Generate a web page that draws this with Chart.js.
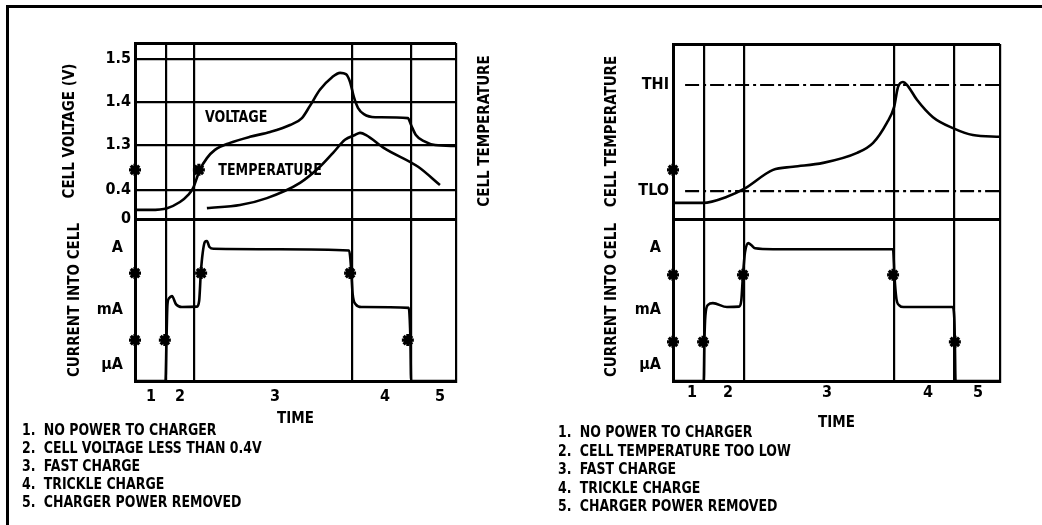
<!DOCTYPE html>
<html>
<head>
<meta charset="utf-8">
<title>Charge cycle: voltage, temperature and current</title>
<script src="https://cdn.jsdelivr.net/npm/chart.js@4.4.1/dist/chart.umd.min.js"></script>
<style>
  html, body { margin: 0; padding: 0; background: #fff; }
  body {
    width: 1042px; height: 525px; overflow: hidden; position: relative;
    font-family: 'Liberation Sans Narrow', 'DejaVu Sans Condensed', 'Arial Narrow', sans-serif;
    font-weight: bold; color: #000;
  }
  .frame {
    position: absolute; left: 6px; top: 5px; width: 1100px; height: 600px;
    border-top: 3px solid #000; border-left: 3px solid #000;
  }
  canvas { position: absolute; top: 0; }
  .notes { position: absolute; font-size: 16px; white-space: nowrap; transform: scaleX(0.87); transform-origin: 0 0; }
  .notes .n { display: inline-block; width: 25px; }
</style>
</head>
<body>
<div class="frame"></div>
<canvas id="leftChart" width="521" height="525" style="left:0"></canvas>
<canvas id="rightChart" width="521" height="525" style="left:521px"></canvas>
<div class="notes" id="leftNotes" style="left:22px; top:421px; line-height:18px"></div>
<div class="notes" id="rightNotes" style="left:558px; top:423px; line-height:18.6px"></div>

<script>
// ---- values ----
// time runs 0..100 across each plot; y values are in grid divisions
// measured from the line that splits the upper and lower plots

const phaseNames = ['1', '2', '3', '4', '5'];
const leftPhaseEdges = [0, 9.7, 18.4, 67.6, 86.0, 100];
const leftPhaseLabelPos = [5.0, 14.0, 43.6, 77.9, 95.0];
const rightPhaseEdges = [0, 9.5, 21.7, 67.6, 85.9, 100];
const rightPhaseLabelPos = [5.8, 16.8, 47.1, 78.0, 93.3];

const voltLabels = ['0', '0.4', '1.3', '1.4', '1.5'];
const voltTickPos = [0, 0.67, 1.70, 2.69, 3.68];
const tempLabels = ['TLO', 'THI'];
const tempTickPos = [0.64, 3.08];
const currentLabels = ['\u00b5A', 'mA', 'A'];
const currentTickPos = [0.37, 1.63, 3.06];

const leftUpperMax = 4.046;
const rightUpperMax = 4.023;
const lowerMax = 3.724;

// left plot: charging a cell that starts below 0.4V
const leftVoltage = [
  [0.3, 0.21], [4.7, 0.21], [10.0, 0.25], [14.0, 0.39], [16.5, 0.55], [18.1, 0.71],
  [20.2, 1.13], [22.4, 1.40], [24.9, 1.59], [29.6, 1.75], [35.8, 1.89], [42.1, 2.00],
  [48.3, 2.16], [52.0, 2.32], [54.5, 2.60], [57.6, 2.97], [61.4, 3.26], [63.9, 3.36],
  [65.7, 3.33], [67.0, 3.15], [68.2, 2.80], [69.5, 2.55], [71.3, 2.41], [74.8, 2.34],
  [85.0, 2.32], [86.0, 2.16], [87.5, 1.93], [90.0, 1.79], [93.5, 1.70], [100, 1.68]
];
const leftTemperature = [
  [22.4, 0.25], [32.7, 0.32], [41.1, 0.48], [51.4, 0.83], [57.6, 1.20], [61.7, 1.52],
  [65.4, 1.82], [68.5, 1.93], [70.1, 1.98], [72.0, 1.93], [77.6, 1.63], [88.2, 1.20],
  [95.0, 0.78]
];
const leftCurrent = [
  [0, 0], [9.5, 0], [9.8, 0.9], [10.1, 1.75], [10.6, 1.90], [11.5, 1.95], [12.8, 1.76],
  [14.6, 1.70], [19.3, 1.71], [20.0, 1.85], [20.5, 2.48], [21.1, 2.95], [21.8, 3.20],
  [22.4, 3.22], [23.2, 3.08], [24.5, 3.04], [45.0, 3.03], [66.7, 3.00], [67.1, 2.80],
  [67.4, 2.48], [67.8, 2.00], [68.8, 1.76], [70.5, 1.70], [85.3, 1.68], [85.6, 1.40],
  [85.8, 0.94], [86.0, 0], [100, 0]
];
const leftUpperMarks = [[0, 1.13], [19.9, 1.13]];
const leftCurrentMarks = [[0, 2.48], [0, 0.94], [9.3, 0.94], [20.6, 2.48], [67.0, 2.48], [85.0, 0.94]];

// right plot: charging a cell that starts too cold
const rightTemperature = [
  [0.6, 0.37], [9.2, 0.37], [16.5, 0.51], [21.7, 0.69], [30.6, 1.13], [36.7, 1.20],
  [45.9, 1.29], [56.3, 1.52], [61.2, 1.75], [65.4, 2.21], [67.6, 2.57], [68.8, 3.03],
  [70.3, 3.15], [71.6, 3.08], [74.6, 2.74], [79.5, 2.34], [85.6, 2.09], [91.7, 1.93],
  [100, 1.89]
];
const rightCurrent = [
  [0, 0], [9.4, 0], [9.6, 0.9], [9.9, 1.5], [10.7, 1.75], [12.2, 1.79], [16.5, 1.70],
  [20.2, 1.71], [20.9, 1.86], [21.4, 2.44], [22.0, 2.95], [23.0, 3.17], [24.0, 3.12],
  [25.1, 3.05], [30.6, 3.03], [67.3, 3.03], [67.7, 2.44], [68.3, 1.90], [69.2, 1.74],
  [70.5, 1.70], [85.5, 1.70], [86.0, 1.47], [86.2, 0.90], [86.4, 0], [100, 0]
];
const rightLimitStart = 3.7;
const rightUpperMarks = [[0, 1.13]];
const rightCurrentMarks = [[0, 2.44], [0, 0.90], [9.2, 0.90], [21.4, 2.44], [67.3, 2.44], [86.2, 0.90]];

const leftNotes = ['NO POWER TO CHARGER', 'CELL VOLTAGE LESS THAN 0.4V', 'FAST CHARGE', 'TRICKLE CHARGE', 'CHARGER POWER REMOVED'];
const rightNotes = ['NO POWER TO CHARGER', 'CELL TEMPERATURE TOO LOW', 'FAST CHARGE', 'TRICKLE CHARGE', 'CHARGER POWER REMOVED'];

// ---- chart setup ----
const FONT = "'Liberation Sans Narrow', 'DejaVu Sans Condensed', 'Arial Narrow', sans-serif";
Chart.defaults.font.family = FONT;
Chart.defaults.font.weight = 'bold';
Chart.defaults.font.size = 15;
Chart.defaults.color = '#000';
Chart.defaults.animation = false;

const INK = '#000';
const NONE = 'rgba(0,0,0,0)';

function pts(pairs) {
  return pairs.map(p => ({ x: p[0], y: p[1] }));
}

function fixedTicks(positions) {
  const uniq = Array.from(new Set(positions)).sort((a, b) => a - b);
  return scale => { scale.ticks = uniq.map(v => ({ value: v })); };
}

function lineSet(pairs, yAxisID, extra) {
  return Object.assign({
    type: 'line', data: pts(pairs), xAxisID: 'x', yAxisID: yAxisID,
    borderColor: INK, borderWidth: 2.6, pointRadius: 0, fill: false,
    cubicInterpolationMode: 'monotone'
  }, extra || {});
}

function markSet(pairs, yAxisID) {
  return {
    type: 'scatter', data: pts(pairs), xAxisID: 'x', yAxisID: yAxisID,
    pointStyle: 'star', pointRadius: 6, pointBorderWidth: 3.2,
    pointBorderColor: INK, pointBackgroundColor: INK, clip: false
  };
}

function timeAxis(edges, labelPos, height, labelPad) {
  return {
    type: 'linear', position: 'bottom', min: 0, max: 100,
    afterBuildTicks: fixedTicks(edges.concat(labelPos)),
    afterFit: s => { s.height = height; },
    grid: {
      drawTicks: false, lineWidth: 2.2,
      color: c => (c.tick && edges.includes(c.tick.value)) ? INK : NONE
    },
    border: { display: true, color: INK, width: 3 },
    ticks: {
      autoSkip: false, maxRotation: 0, padding: labelPad, font: { size: 16 },
      callback: v => { const i = labelPos.indexOf(v); return i < 0 ? '' : phaseNames[i]; }
    },
    title: { display: true, text: 'TIME', padding: { top: 0, bottom: 3 } }
  };
}

function upperAxis(title, labels, labelPos, gridPos, max, width, titlePad) {
  return {
    type: 'linear', position: 'left', stack: 'cell', stackWeight: max, min: 0, max: max,
    afterBuildTicks: fixedTicks(labelPos.concat(gridPos)),
    afterFit: s => { s.width = width; },
    grid: {
      drawTicks: false,
      color: c => (c.tick && gridPos.includes(c.tick.value)) ? INK : NONE,
      lineWidth: c => (c.tick && (c.tick.value === 0 || c.tick.value === max)) ? 3 : 2.2
    },
    border: { color: INK, width: 3 },
    ticks: {
      autoSkip: false, padding: 4, font: { size: 16 },
      callback: v => { const i = labelPos.indexOf(v); return i < 0 ? '' : labels[i]; }
    },
    title: { display: true, text: title, padding: { top: titlePad, bottom: 0 } }
  };
}

function lowerAxis(width, titlePad) {
  return {
    type: 'linear', position: 'left', stack: 'cell', stackWeight: lowerMax, min: 0, max: lowerMax,
    afterBuildTicks: fixedTicks(currentTickPos),
    afterFit: s => { s.width = width; },
    grid: { display: false },
    border: { color: INK, width: 3 },
    ticks: {
      autoSkip: false, padding: 4, font: { size: 16 },
      callback: v => currentLabels[currentTickPos.indexOf(v)]
    },
    title: { display: true, text: 'CURRENT INTO CELL', padding: { top: titlePad, bottom: 0 } }
  };
}

// curve labels and the extra rotated title on the right of the left plot
const panelText = {
  id: 'panelText',
  afterDraw(chart, args, opts) {
    const { ctx, chartArea } = chart;
    ctx.save();
    ctx.fillStyle = INK;
    ctx.font = 'bold 16px ' + FONT;
    ctx.textAlign = 'center';
    ctx.textBaseline = 'middle';
    (opts.labels || []).forEach(l => {
      const x = chart.scales.x.getPixelForValue(l.x);
      const y = chart.scales[l.axis].getPixelForValue(l.y);
      ctx.save();
      ctx.translate(x, y);
      ctx.scale(0.88, 1);
      ctx.fillText(l.text, 0, 0);
      ctx.restore();
    });
    if (opts.sideTitle) {
      const s = chart.scales.yV;
      ctx.font = 'bold 15px ' + FONT;
      ctx.translate(chartArea.right + opts.sideTitle.offset, (s.top + s.bottom) / 2);
      ctx.rotate(-Math.PI / 2);
      ctx.fillText(opts.sideTitle.text, 0, 0);
    }
    ctx.restore();
  }
};

new Chart(document.getElementById('leftChart'), {
  type: 'line',
  data: {
    datasets: [
      lineSet(leftVoltage, 'yV'),
      lineSet(leftTemperature, 'yT'),
      lineSet(leftCurrent, 'yI'),
      markSet(leftUpperMarks, 'yV'),
      markSet(leftCurrentMarks, 'yI')
    ]
  },
  options: {
    responsive: false,
    layout: { padding: { left: 58, right: 65, top: 43, bottom: 94 } },
    scales: {
      x: timeAxis(leftPhaseEdges, leftPhaseLabelPos, 50, 6),
      yI: lowerAxis(77, 8),
      yV: upperAxis('CELL VOLTAGE (V)', voltLabels, voltTickPos, voltTickPos.concat([leftUpperMax]), leftUpperMax, 77, 3),
      yT: { type: 'linear', display: false, position: 'right', min: -lowerMax, max: leftUpperMax }
    },
    plugins: {
      legend: { display: false },
      tooltip: { enabled: false },
      panelText: {
        labels: [
          { text: 'VOLTAGE', x: 31.5, y: 2.32, axis: 'yV' },
          { text: 'TEMPERATURE', x: 42.1, y: 1.10, axis: 'yV' }
        ],
        sideTitle: { text: 'CELL TEMPERATURE', offset: 29 }
      }
    }
  },
  plugins: [panelText]
});

new Chart(document.getElementById('rightChart'), {
  type: 'line',
  data: {
    datasets: [
      lineSet(rightTemperature, 'yV'),
      lineSet([[rightLimitStart, tempTickPos[1]], [100, tempTickPos[1]]], 'yV', { borderWidth: 2.2, borderDash: [14, 4, 3, 4], cubicInterpolationMode: 'default' }),
      lineSet([[rightLimitStart, tempTickPos[0]], [100, tempTickPos[0]]], 'yV', { borderWidth: 2.2, borderDash: [14, 4, 3, 4], cubicInterpolationMode: 'default' }),
      lineSet(rightCurrent, 'yI'),
      markSet(rightUpperMarks, 'yV'),
      markSet(rightCurrentMarks, 'yI')
    ]
  },
  options: {
    responsive: false,
    layout: { padding: { left: 78, right: 42, top: 44, bottom: 90 } },
    scales: {
      x: timeAxis(rightPhaseEdges, rightPhaseLabelPos, 54, 2),
      yI: lowerAxis(74, 4),
      yV: upperAxis('CELL TEMPERATURE', tempLabels, tempTickPos, [0, rightUpperMax], rightUpperMax, 74, 4)
    },
    plugins: {
      legend: { display: false },
      tooltip: { enabled: false }
    }
  },
  plugins: [panelText]
});

function fillNotes(id, notes) {
  const box = document.getElementById(id);
  notes.forEach((text, i) => {
    const row = document.createElement('div');
    const num = document.createElement('span');
    num.className = 'n';
    num.textContent = (i + 1) + '.';
    row.appendChild(num);
    row.appendChild(document.createTextNode(text));
    box.appendChild(row);
  });
}
fillNotes('leftNotes', leftNotes);
fillNotes('rightNotes', rightNotes);
</script>
</body>
</html>
